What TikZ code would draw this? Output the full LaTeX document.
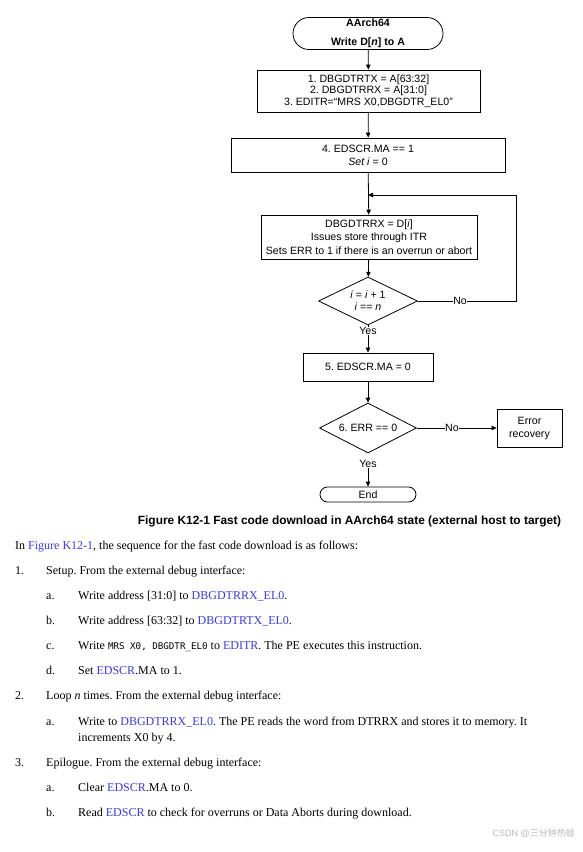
\documentclass[tikz,border=0pt]{standalone}
\usepackage{fontspec}
\setmainfont{Liberation Serif}
\setsansfont{Liberation Sans}
\newfontfamily\cjkfont{Noto Sans CJK SC}
\newfontfamily\codemono{DejaVu Sans Mono}
\usetikzlibrary{shapes.geometric,arrows.meta}
\definecolor{linkblue}{RGB}{60,60,210}
\definecolor{wmgray}{RGB}{185,185,185}
\newcommand{\lnk}[1]{\textcolor{linkblue}{#1}}
\newcommand{\codetxt}[1]{{\codemono\fontsize{9.2}{11}\selectfont #1}}
\frenchspacing
\begin{document}
\begin{tikzpicture}[x=1pt,y=-1pt,
  fc/.style={font=\sffamily\fontsize{10.6}{12}\selectfont, align=center, inner sep=0pt},
  procbox/.style={fc, draw, line width=0.8pt},
  termbox/.style={procbox, rounded corners=#1},
  decbox/.style={fc, diamond, draw, line width=0.8pt, aspect=2},
  arr/.style={-{Triangle[length=5pt,width=4.5pt]}, line width=0.8pt},
  lbl/.style={fc, fill=white, inner sep=0.6pt},
  txt/.style={anchor=base west, inner sep=0pt, font=\frenchspacing\fontsize{12}{14}\selectfont},
]
\useasboundingbox (0,0) rectangle (582,852);
\fill[white] (0,0) rectangle (582,852);

% flowchart nodes
\node[termbox=16pt, minimum width=150pt, minimum height=32pt,
      font=\sffamily\bfseries\fontsize{10.6}{19}\selectfont] (start) at (368,33.5)
      {AArch64\\Write D[\textit{n}] to A};
\node[procbox, minimum width=223pt, minimum height=42pt,
      font=\sffamily\fontsize{10.6}{11.5}\selectfont] (b1) at (368.5,91)
      {1. DBGDTRTX = A[63:32]\\2. DBGDTRRX = A[31:0]\\3. EDITR=``MRS X0,DBGDTR\_EL0''};
\node[procbox, minimum width=274pt, minimum height=34pt,
      font=\sffamily\fontsize{10.6}{13}\selectfont] (b2) at (368,155)
      {4. EDSCR.MA == 1\\\textit{Set i} = 0};
\node[procbox, minimum width=216pt, minimum height=44pt,
      font=\sffamily\fontsize{10.6}{13.5}\selectfont] (b3) at (369,237)
      {DBGDTRRX = D[\textit{i}]\\Issues store through ITR\\Sets ERR to 1 if there is an overrun or abort};
\node[decbox, minimum width=99pt, minimum height=48pt] (d1) at (368,301)
      {\textit{i} = \textit{i} + 1\\\textit{i} == \textit{n}};
\node[fc] (y1) at (368,331) {Yes};
\node[procbox, minimum width=130pt, minimum height=28pt] (b5) at (368,367)
      {5. EDSCR.MA = 0};
\node[decbox, minimum width=97pt, minimum height=50pt] (d2) at (368,428)
      {6. ERR == 0};
\node[procbox, minimum width=65pt, minimum height=38pt,
      font=\sffamily\fontsize{10.6}{13}\selectfont] (err) at (529.5,428)
      {Error\\recovery};
\node[fc] (y2) at (368,464) {Yes};
\node[termbox=7.5pt, minimum width=96pt, minimum height=15pt] (end) at (368,494.5) {End};
\coordinate (j) at (368,195);
\coordinate (rc) at (516,301);

% connectors
\draw[arr] (start) -- (b1);
\draw[arr] (b1) -- (b2);
\draw[arr] (b2) -- (b3);
\draw[arr] (b3) -- (d1);
\draw[arr] (d1.east) -- node[lbl, pos=0.43] {No} (rc) |- (j);
\draw[line width=0.8pt] (d1.south) -- (y1.north);
\draw[arr] (y1) -- (b5);
\draw[arr] (b5) -- (d2);
\draw[arr] (d2.east) -- node[lbl, pos=0.44] {No} (err.west);
\draw[arr] (y2) -- (end);

% caption
\node[anchor=base, inner sep=0pt, font=\sffamily\bfseries\fontsize{11.9}{14}\selectfont] (cap) at (349.5,524)
  {Figure K12-1 Fast code download in AArch64 state (external host to target)};

% body text
\node[txt] (p0) at (15,549) {In \lnk{Figure K12-1}, the sequence for the fast code download is as follows:};
\node[txt] (n1) at (15,574) {1.};
\node[txt] (t1) at (46,574) {Setup. From the external debug interface:};
\node[txt] (n1a) at (46,599) {a.};
\node[txt] (t1a) at (78,599) {Write address [31:0] to \lnk{DBGDTRRX\_EL0}.};
\node[txt] (n1b) at (46,624) {b.};
\node[txt] (t1b) at (78,624) {Write address [63:32] to \lnk{DBGDTRTX\_EL0}.};
\node[txt] (n1c) at (46,649) {c.};
\node[txt] (t1c) at (78,649) {Write \codetxt{MRS X0, DBGDTR\_EL0} to \lnk{EDITR}. The PE executes this instruction.};
\node[txt] (n1d) at (46,674) {d.};
\node[txt] (t1d) at (78,674) {Set \lnk{EDSCR}.MA to 1.};
\node[txt] (n2) at (15,699) {2.};
\node[txt] (t2) at (46,699) {Loop \textit{n} times. From the external debug interface:};
\node[txt] (n2a) at (46,725) {a.};
\node[txt] (t2a) at (78,725) {Write to \lnk{DBGDTRRX\_EL0}. The PE reads the word from DTRRX and stores it to memory. It};
\node[txt] (t2b) at (78,741) {increments X0 by 4.};
\node[txt] (n3) at (15,766) {3.};
\node[txt] (t3) at (46,766) {Epilogue. From the external debug interface:};
\node[txt] (n3a) at (46,791) {a.};
\node[txt] (t3a) at (78,791) {Clear \lnk{EDSCR}.MA to 0.};
\node[txt] (n3b) at (46,816) {b.};
\node[txt] (t3b) at (78,816) {Read \lnk{EDSCR} to check for overruns or Data Aborts during download.};

% watermark
\node[anchor=base east, inner sep=0pt, text=wmgray, font=\sffamily\fontsize{9}{11}\selectfont] (wm) at (575,836)
  {CSDN @{\cjkfont 三分钟热蛙}};
\end{tikzpicture}
\end{document}
